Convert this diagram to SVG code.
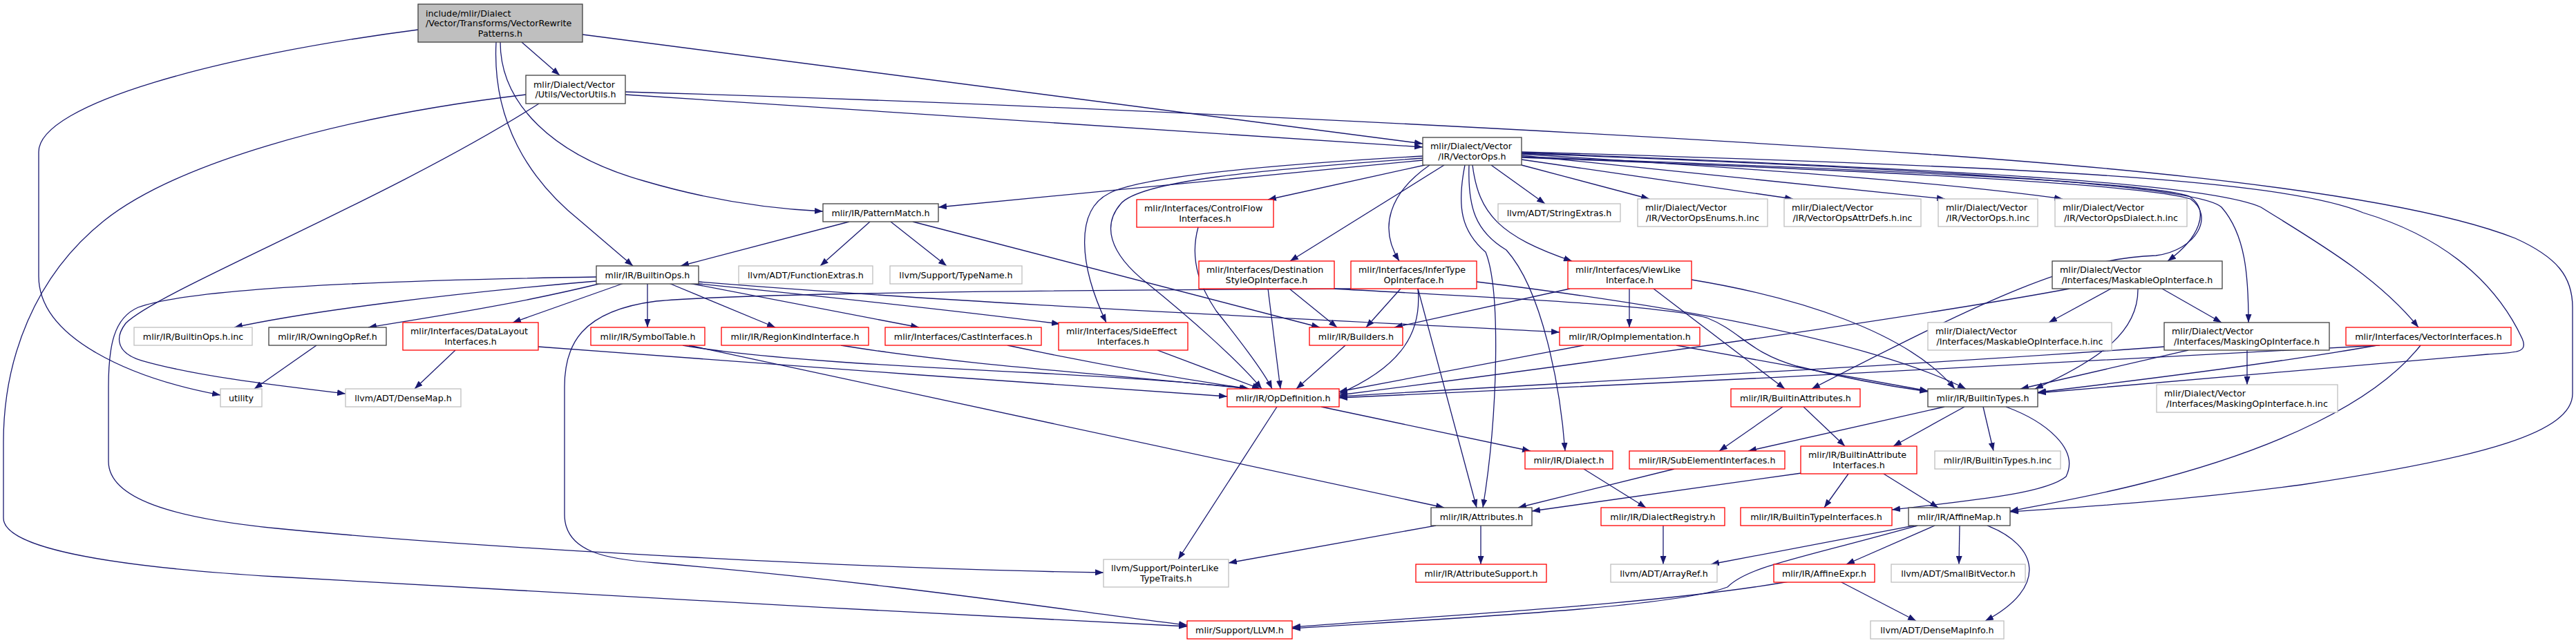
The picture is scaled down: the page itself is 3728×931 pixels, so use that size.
<svg xmlns="http://www.w3.org/2000/svg" width="3728" height="931" viewBox="0 0 3728 931">
<style>
text{font-family:"DejaVu Sans","Liberation Sans",sans-serif;font-size:12.7px;fill:#000}
.c{text-anchor:middle}
.node rect{fill:#fff;stroke-width:1.3}
.k rect{stroke:#404040}
.r rect{stroke:#ff0000}
.g rect{stroke:#bfbfbf}
.root rect{fill:#bfbfbf;stroke:#404040}
#edges path{fill:none;stroke:#191970;stroke-width:1.3;marker-end:url(#a)}
</style>
<defs>
<marker id="a" markerUnits="userSpaceOnUse" markerWidth="12" markerHeight="9" refX="12" refY="4.5" orient="auto" viewBox="0 0 12 9"><path d="M0,0 L12,4.5 L0,9 Z" fill="#191970"/></marker>
</defs>
<rect x="0" y="0" width="3728" height="931" fill="#fff"/>
<g id="edges">
<path d="M605,43 C 320,80 56,150 56,220 L56,400 C 56,490 190,548 319,572"/>
<path d="M755,61 L810,109"/>
<path d="M843,50 L2059,208"/>
<path d="M724,61 C 724,150 800,225 932,262 C 1020,288 1110,302 1191,306"/>
<path d="M718,61 C 712,175 765,260 840,320 L916,385"/>
<path d="M905,137 L2059,213"/>
<path d="M905,133 C 1500,150 2300,190 2800,224 C 3200,252 3500,290 3640,345 C 3700,372 3723,400 3723,445 L3723,570 C 3723,625 3600,662 3330,702 C 3150,726 3000,735 2909,741"/>
<path d="M761,137 C 480,170 250,240 150,320 C 50,400 5,520 5,640 L5,750 C 5,792 150,820 400,835 C 700,855 1300,885 1718,907"/>
<path d="M780,150 C 560,290 230,420 182,468 C 165,490 170,512 205,522 C 285,545 400,558 500,570"/>
<path d="M2059,232 L1358,300"/>
<path d="M2062,239 L1835,289"/>
<path d="M2059,226 C 1850,238 1650,255 1605,280 C 1555,305 1562,385 1601,467"/>
<path d="M2059,229 C 1820,246 1650,262 1622,295 C 1596,325 1603,365 1660,410 C 1722,460 1792,522 1826,563"/>
<path d="M2090,239 L1867,378"/>
<path d="M2069,239 C 2010,280 1995,330 2025,378"/>
<path d="M2120,239 C 2108,300 2115,335 2150,365 C 2172,420 2168,600 2146,735"/>
<path d="M2126,239 C 2124,300 2135,335 2180,362 C 2232,420 2258,560 2265,653"/>
<path d="M2131,239 C 2140,310 2170,342 2275,378"/>
<path d="M2158,239 L2236,295"/>
<path d="M2202,239 L2387,288"/>
<path d="M2202,231 L2595,288"/>
<path d="M2202,225 L2815,288"/>
<path d="M2202,223 C 2500,242 2800,262 2985,288"/>
<path d="M2202,227 C 2700,245 3100,262 3168,284 C 3200,305 3182,345 3137,378"/>
<path d="M2202,228 C 2700,247 3100,266 3170,288 C 3205,312 3180,362 3120,370 C 3000,374 2880,430 2622,563"/>
<path d="M2202,222 C 2800,245 3180,268 3215,300 C 3250,340 3254,400 3254,467"/>
<path d="M2202,221 C 2900,248 3200,268 3272,300 C 3352,350 3440,400 3500,474"/>
<path d="M2202,220 C 2900,240 3300,258 3420,308 C 3560,350 3622,430 3650,490 C 3660,512 3640,510 3600,513 L2949,569"/>
<path d="M1229,321 L985,385"/>
<path d="M1259,321 L1187,385"/>
<path d="M1289,321 L1370,385"/>
<path d="M1321,321 L1910,474"/>
<path d="M1734,329 C 1720,380 1740,420 1760,450 C 1800,500 1830,540 1841,563"/>
<path d="M863,407 C 650,425 450,450 339,474"/>
<path d="M871,410 C 750,440 620,460 533,474"/>
<path d="M903,410 L742,467"/>
<path d="M937,410 L937,474"/>
<path d="M968,410 L1122,474"/>
<path d="M997,410 L1330,474"/>
<path d="M1003,410 C 1200,430 1400,452 1534,469"/>
<path d="M1011,408 C 1400,440 1900,462 2257,481"/>
<path d="M863,401 C 600,405 280,415 200,445 C 165,460 157,500 157,560 L157,668 C 157,722 250,750 400,765 C 700,795 1300,825 1597,829"/>
<path d="M1866,418 L1935,474"/>
<path d="M1835,418 L1853,563"/>
<path d="M1929,418 C 2100,428 2400,440 2470,460 C 2520,480 2530,510 2600,530 C 2680,550 2740,560 2790,567"/>
<path d="M2027,418 L1977,474"/>
<path d="M2052,418 C 2058,480 2030,530 1938,570"/>
<path d="M2052,418 L2137,735"/>
<path d="M2137,408 C 2400,440 2700,490 2845,563"/>
<path d="M1955,418 C 1600,420 1100,423 950,436 C 840,450 817,500 817,560 L817,745 C 817,800 880,810 950,815 C 1300,845 1550,885 1718,905"/>
<path d="M2272,418 L2018,474"/>
<path d="M2358,418 L2358,474"/>
<path d="M2393,418 L2583,563"/>
<path d="M2448,405 C 2600,430 2760,480 2829,563"/>
<path d="M2292,500 L1938,567"/>
<path d="M2426,500 L2790,566"/>
<path d="M1947,500 L1876,563"/>
<path d="M988,500 C 1100,520 1300,530 1500,540 C 1650,548 1750,555 1806,563"/>
<path d="M997,500 L2090,735"/>
<path d="M1217,500 C 1400,530 1650,545 1806,563"/>
<path d="M1458,500 C 1600,530 1720,550 1808,563"/>
<path d="M1675,507 L1824,563"/>
<path d="M779,502 C 1000,520 1500,555 1776,574"/>
<path d="M659,507 L600,563"/>
<path d="M458,500 L368,563"/>
<path d="M1912,589 L2215,653"/>
<path d="M1848,589 L1705,810"/>
<path d="M2292,679 L2382,735"/>
<path d="M2423,679 L2197,735"/>
<path d="M2607,685 L2217,740"/>
<path d="M2675,686 L2640,735"/>
<path d="M2726,686 L2805,735"/>
<path d="M2580,589 L2488,653"/>
<path d="M2610,589 L2670,646"/>
<path d="M2814,589 L2530,653"/>
<path d="M2843,589 L2740,646"/>
<path d="M2870,589 L2885,653"/>
<path d="M2903,589 C 2960,610 3010,650 2990,690 C 2960,715 2850,725 2738,738"/>
<path d="M2143,761 L2143,817"/>
<path d="M2078,761 L1778,815"/>
<path d="M2407,761 L2407,817"/>
<path d="M2770,761 L2476,817"/>
<path d="M2775,761 C 2600,810 2530,820 2500,850 C 2420,880 2100,895 1870,910"/>
<path d="M2800,761 L2672,817"/>
<path d="M2836,761 L2835,817"/>
<path d="M2876,761 C 2950,790 2965,850 2873,899"/>
<path d="M2589,842 C 2400,875 2100,890 1870,908"/>
<path d="M2663,842 L2773,899"/>
<path d="M2995,418 C 2850,445 2500,500 1938,572"/>
<path d="M3055,418 L2965,467"/>
<path d="M3129,418 L3215,467"/>
<path d="M3094,418 C 3095,480 3040,520 2945,563"/>
<path d="M3252,507 L3252,557"/>
<path d="M3132,502 C 2800,527 2300,552 1938,574"/>
<path d="M3167,507 L2924,563"/>
<path d="M3444,500 C 3100,522 2400,555 1938,576"/>
<path d="M3440,500 C 3300,525 3100,550 2949,568"/>
<path d="M3503,500 C 3440,580 3300,650 3100,700 C 3030,718 2960,730 2909,740"/>
</g>
<g id="n_main" class="node root"><rect x="605" y="6" width="238" height="55"/><text x="616" y="23.5">include/mlir/Dialect</text><text x="616" y="38">/Vector/Transforms/VectorRewrite</text><text class="c" x="724" y="52.5">Patterns.h</text></g>
<g id="n_vutils" class="node k"><rect x="761" y="109" width="144" height="41"/><text x="772" y="126.75">mlir/Dialect/Vector</text><text class="c" x="833" y="141.25">/Utils/VectorUtils.h</text></g>
<g id="n_vops" class="node k"><rect x="2059" y="199" width="143" height="40"/><text x="2070" y="216.25">mlir/Dialect/Vector</text><text class="c" x="2130.5" y="230.75">/IR/VectorOps.h</text></g>
<g id="n_patternmatch" class="node k"><rect x="1191" y="295" width="167" height="26"/><text class="c" x="1274.5" y="312.5">mlir/IR/PatternMatch.h</text></g>
<g id="n_controlflow" class="node r"><rect x="1645" y="289" width="198" height="40"/><text x="1656" y="306.25">mlir/Interfaces/ControlFlow</text><text class="c" x="1744" y="320.75">Interfaces.h</text></g>
<g id="n_stringextras" class="node g"><rect x="2168" y="295" width="177" height="26"/><text class="c" x="2256.5" y="312.5">llvm/ADT/StringExtras.h</text></g>
<g id="n_enums" class="node g"><rect x="2370" y="288" width="188" height="40"/><text x="2381" y="305.25">mlir/Dialect/Vector</text><text class="c" x="2464" y="319.75">/IR/VectorOpsEnums.h.inc</text></g>
<g id="n_attrdefs" class="node g"><rect x="2582" y="288" width="198" height="40"/><text x="2593" y="305.25">mlir/Dialect/Vector</text><text class="c" x="2681" y="319.75">/IR/VectorOpsAttrDefs.h.inc</text></g>
<g id="n_opsinc" class="node g"><rect x="2805" y="288" width="144" height="40"/><text x="2816" y="305.25">mlir/Dialect/Vector</text><text class="c" x="2877" y="319.75">/IR/VectorOps.h.inc</text></g>
<g id="n_dialectinc" class="node g"><rect x="2974" y="288" width="191" height="40"/><text x="2985" y="305.25">mlir/Dialect/Vector</text><text class="c" x="3069.5" y="319.75">/IR/VectorOpsDialect.h.inc</text></g>
<g id="n_builtinops" class="node k"><rect x="863" y="385" width="148" height="26"/><text class="c" x="937" y="402.5">mlir/IR/BuiltinOps.h</text></g>
<g id="n_functionextras" class="node g"><rect x="1069" y="385" width="194" height="26"/><text class="c" x="1166" y="402.5">llvm/ADT/FunctionExtras.h</text></g>
<g id="n_typename" class="node g"><rect x="1288" y="385" width="191" height="26"/><text class="c" x="1383.5" y="402.5">llvm/Support/TypeName.h</text></g>
<g id="n_deststyle" class="node r"><rect x="1735" y="378" width="196" height="40"/><text x="1746" y="395.25">mlir/Interfaces/Destination</text><text class="c" x="1833" y="409.75">StyleOpInterface.h</text></g>
<g id="n_infertype" class="node r"><rect x="1955" y="378" width="182" height="40"/><text x="1966" y="395.25">mlir/Interfaces/InferType</text><text class="c" x="2046" y="409.75">OpInterface.h</text></g>
<g id="n_viewlike" class="node r"><rect x="2269" y="378" width="179" height="40"/><text x="2280" y="395.25">mlir/Interfaces/ViewLike</text><text class="c" x="2358.5" y="409.75">Interface.h</text></g>
<g id="n_maskable" class="node k"><rect x="2970" y="378" width="246" height="40"/><text x="2981" y="395.25">mlir/Dialect/Vector</text><text class="c" x="3093" y="409.75">/Interfaces/MaskableOpInterface.h</text></g>
<g id="n_builtinopsinc" class="node g"><rect x="194" y="474" width="171" height="26"/><text class="c" x="279.5" y="491.5">mlir/IR/BuiltinOps.h.inc</text></g>
<g id="n_owningopref" class="node k"><rect x="389" y="474" width="170" height="26"/><text class="c" x="474" y="491.5">mlir/IR/OwningOpRef.h</text></g>
<g id="n_datalayout" class="node r"><rect x="583" y="467" width="196" height="40"/><text x="594" y="484.25">mlir/Interfaces/DataLayout</text><text class="c" x="681" y="498.75">Interfaces.h</text></g>
<g id="n_symboltable" class="node r"><rect x="855" y="474" width="165" height="26"/><text class="c" x="937.5" y="491.5">mlir/IR/SymbolTable.h</text></g>
<g id="n_regionkind" class="node r"><rect x="1044" y="474" width="213" height="26"/><text class="c" x="1150.5" y="491.5">mlir/IR/RegionKindInterface.h</text></g>
<g id="n_cast" class="node r"><rect x="1281" y="474" width="226" height="26"/><text class="c" x="1394" y="491.5">mlir/Interfaces/CastInterfaces.h</text></g>
<g id="n_sideeffect" class="node r"><rect x="1532" y="467" width="187" height="40"/><text x="1543" y="484.25">mlir/Interfaces/SideEffect</text><text class="c" x="1625.5" y="498.75">Interfaces.h</text></g>
<g id="n_builders" class="node r"><rect x="1895" y="474" width="135" height="26"/><text class="c" x="1962.5" y="491.5">mlir/IR/Builders.h</text></g>
<g id="n_opimpl" class="node r"><rect x="2257" y="474" width="203" height="26"/><text class="c" x="2358.5" y="491.5">mlir/IR/OpImplementation.h</text></g>
<g id="n_maskableinc" class="node g"><rect x="2790" y="467" width="266" height="40"/><text x="2801" y="484.25">mlir/Dialect/Vector</text><text class="c" x="2923" y="498.75">/Interfaces/MaskableOpInterface.h.inc</text></g>
<g id="n_maskingop" class="node k"><rect x="3132" y="467" width="239" height="40"/><text x="3143" y="484.25">mlir/Dialect/Vector</text><text class="c" x="3251.5" y="498.75">/Interfaces/MaskingOpInterface.h</text></g>
<g id="n_vectorinterfaces" class="node r"><rect x="3395" y="474" width="239" height="26"/><text class="c" x="3514.5" y="491.5">mlir/Interfaces/VectorInterfaces.h</text></g>
<g id="n_utility" class="node g"><rect x="319" y="563" width="60" height="26"/><text class="c" x="349" y="580.5">utility</text></g>
<g id="n_densemap" class="node g"><rect x="500" y="563" width="167" height="26"/><text class="c" x="583.5" y="580.5">llvm/ADT/DenseMap.h</text></g>
<g id="n_opdefinition" class="node r"><rect x="1776" y="563" width="162" height="26"/><text class="c" x="1857" y="580.5">mlir/IR/OpDefinition.h</text></g>
<g id="n_builtinattributes" class="node r"><rect x="2505" y="563" width="187" height="26"/><text class="c" x="2598.5" y="580.5">mlir/IR/BuiltinAttributes.h</text></g>
<g id="n_builtintypes" class="node k"><rect x="2790" y="563" width="159" height="26"/><text class="c" x="2869.5" y="580.5">mlir/IR/BuiltinTypes.h</text></g>
<g id="n_maskinginc" class="node g"><rect x="3121" y="557" width="262" height="40"/><text x="3132" y="574.25">mlir/Dialect/Vector</text><text class="c" x="3252" y="588.75">/Interfaces/MaskingOpInterface.h.inc</text></g>
<g id="n_dialect" class="node r"><rect x="2207" y="653" width="127" height="26"/><text class="c" x="2270.5" y="670.5">mlir/IR/Dialect.h</text></g>
<g id="n_subelement" class="node r"><rect x="2358" y="653" width="225" height="26"/><text class="c" x="2470.5" y="670.5">mlir/IR/SubElementInterfaces.h</text></g>
<g id="n_builtinattrinterfaces" class="node r"><rect x="2606" y="646" width="168" height="40"/><text x="2617" y="663.25">mlir/IR/BuiltinAttribute</text><text class="c" x="2690" y="677.75">Interfaces.h</text></g>
<g id="n_builtintypesinc" class="node g"><rect x="2800" y="653" width="182" height="26"/><text class="c" x="2891" y="670.5">mlir/IR/BuiltinTypes.h.inc</text></g>
<g id="n_attributes" class="node k"><rect x="2071" y="735" width="146" height="26"/><text class="c" x="2144" y="752.5">mlir/IR/Attributes.h</text></g>
<g id="n_dialectregistry" class="node r"><rect x="2317" y="735" width="179" height="26"/><text class="c" x="2406.5" y="752.5">mlir/IR/DialectRegistry.h</text></g>
<g id="n_builtintypeinterfaces" class="node r"><rect x="2519" y="735" width="219" height="26"/><text class="c" x="2628.5" y="752.5">mlir/IR/BuiltinTypeInterfaces.h</text></g>
<g id="n_affinemap" class="node k"><rect x="2762" y="735" width="147" height="26"/><text class="c" x="2835.5" y="752.5">mlir/IR/AffineMap.h</text></g>
<g id="n_pointerlike" class="node g"><rect x="1597" y="810" width="181" height="40"/><text x="1608" y="827.25">llvm/Support/PointerLike</text><text class="c" x="1687.5" y="841.75">TypeTraits.h</text></g>
<g id="n_attributesupport" class="node r"><rect x="2049" y="817" width="189" height="26"/><text class="c" x="2143.5" y="834.5">mlir/IR/AttributeSupport.h</text></g>
<g id="n_arrayref" class="node g"><rect x="2331" y="817" width="154" height="26"/><text class="c" x="2408" y="834.5">llvm/ADT/ArrayRef.h</text></g>
<g id="n_affineexpr" class="node r"><rect x="2567" y="817" width="146" height="26"/><text class="c" x="2640" y="834.5">mlir/IR/AffineExpr.h</text></g>
<g id="n_smallbitvector" class="node g"><rect x="2737" y="817" width="194" height="26"/><text class="c" x="2834" y="834.5">llvm/ADT/SmallBitVector.h</text></g>
<g id="n_llvm" class="node r"><rect x="1718" y="899" width="152" height="26"/><text class="c" x="1794" y="916.5">mlir/Support/LLVM.h</text></g>
<g id="n_densemapinfo" class="node g"><rect x="2707" y="899" width="193" height="26"/><text class="c" x="2803.5" y="916.5">llvm/ADT/DenseMapInfo.h</text></g>
</svg>
